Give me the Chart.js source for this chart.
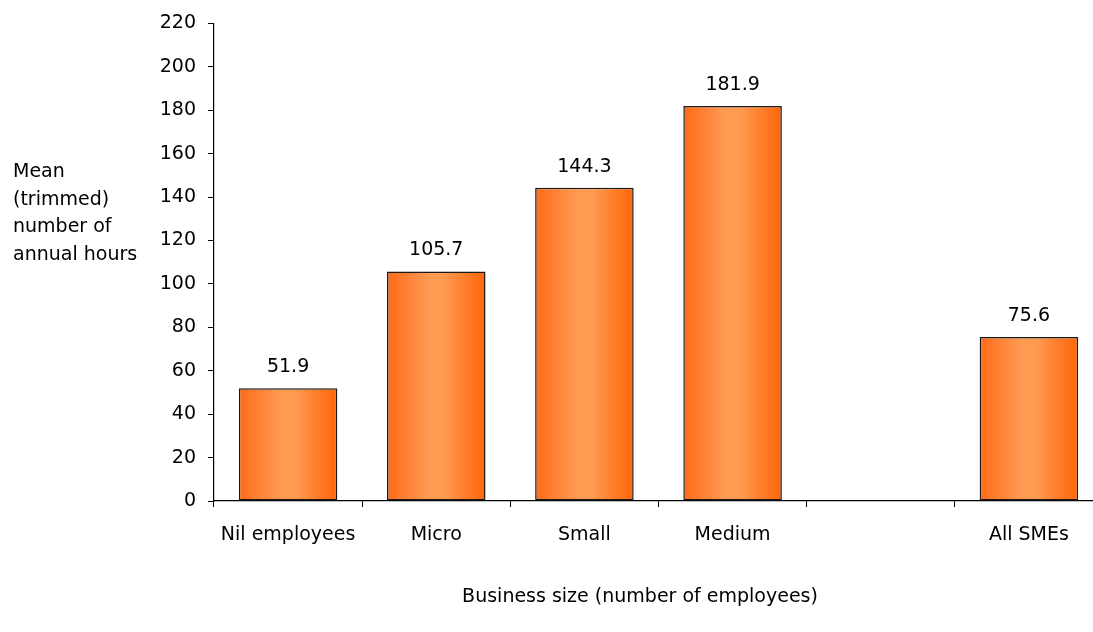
<!DOCTYPE html>
<html>
<head>
<meta charset="utf-8">
<script src="https://cdn.jsdelivr.net/npm/chart.js@4.4.1/dist/chart.umd.min.js"></script>
<style>
html,body{margin:0;padding:0;background:#fff;overflow:hidden;}
#wrap{width:1093px;height:632px;overflow:hidden;position:relative;}
canvas{display:block;}
</style>
</head>
<body>
<div id="wrap"><canvas id="c" width="1110" height="632"></canvas></div>
<script>
const categories = ["Nil employees", "Micro", "Small", "Medium", "", "All SMEs"];
const meanHours = [51.9, 105.7, 144.3, 181.9, null, 75.6];
const yTitleLines = ["Mean", "(trimmed)", "number of", "annual hours"];
const xTitle = "Business size (number of employees)";
const yMin = 0, yMax = 220, yStep = 20;

const FONT = "'DejaVu Sans', Verdana, sans-serif";
const FS = 19;
const BAR_PCT = 0.665;

function barGradient(context) {
  const chart = context.chart;
  const xs = chart.scales && chart.scales.x;
  if (!xs || !chart.chartArea) return '#ff8a3d';
  const cx = xs.getPixelForValue(context.dataIndex);
  const w = (xs.width / categories.length) * BAR_PCT;
  const l = cx - w / 2, r = cx + w / 2;
  if (!isFinite(l) || !isFinite(r)) return '#ff8a3d';
  const g = chart.ctx.createLinearGradient(l, 0, r, 0);
  g.addColorStop(0, '#ff6a14');
  g.addColorStop(0.18, '#ff7f32');
  g.addColorStop(0.42, '#ff9a52');
  g.addColorStop(0.58, '#ff9a50');
  g.addColorStop(0.8, '#ff7d2a');
  g.addColorStop(1, '#ff6608');
  return g;
}

const textPlugin = {
  id: 'texts',
  afterDraw(chart) {
    const ctx = chart.ctx;
    ctx.save();
    ctx.fillStyle = '#000';
    ctx.font = FS + 'px ' + FONT;
    ctx.textAlign = 'center';
    ctx.textBaseline = 'middle';
    const meta = chart.getDatasetMeta(0);
    meta.data.forEach((bar, i) => {
      const v = meanHours[i];
      if (v == null) return;
      ctx.fillText(v.toFixed(1), bar.x, bar.y - 21);
    });
    ctx.textAlign = 'left';
    yTitleLines.forEach((t, i) => ctx.fillText(t, 13, 172 + i * 27.6));
    ctx.textAlign = 'center';
    ctx.fillText(xTitle, 640, 597);
    ctx.restore();
  }
};

new Chart(document.getElementById('c'), {
  type: 'bar',
  data: {
    labels: categories,
    datasets: [{
      data: meanHours,
      backgroundColor: barGradient,
      borderColor: '#1a1a1a',
      borderWidth: 1.5,
      borderSkipped: false,
      categoryPercentage: 1,
      barPercentage: BAR_PCT
    }]
  },
  options: {
    responsive: false,
    animation: false,
    layout: { padding: { top: 23, right: 7, left: 0, bottom: 0 } },
    plugins: { legend: { display: false }, tooltip: { enabled: false } },
    scales: {
      x: {
        offset: true,
        grid: { display: true, offset: true, drawOnChartArea: false, drawTicks: true, tickLength: 6, color: '#000', lineWidth: 1 },
        border: { display: true, color: '#000', width: 1.2 },
        ticks: { color: '#000', font: { family: FONT, size: FS }, padding: 17, maxRotation: 0, autoSkip: false },
        afterFit(scale) { scale.height = 131; }
      },
      y: {
        min: yMin, max: yMax,
        grid: { display: true, drawOnChartArea: false, drawTicks: true, tickLength: 6, color: '#000', lineWidth: 1 },
        border: { display: true, color: '#000', width: 1.2 },
        ticks: { stepSize: yStep, color: '#000', font: { family: FONT, size: FS }, padding: 12 },
        afterFit(scale) { scale.width = 214; }
      }
    }
  },
  plugins: [textPlugin]
});
</script>
</body>
</html>
